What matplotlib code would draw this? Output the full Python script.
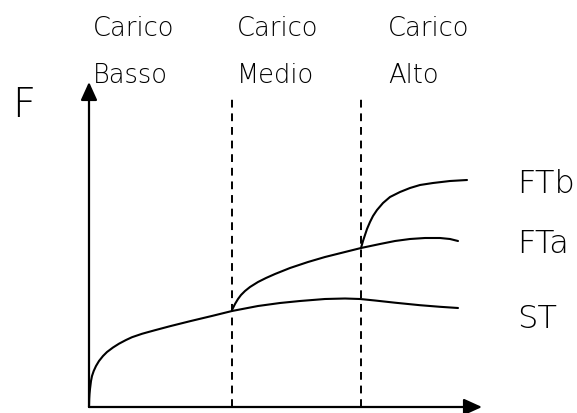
import matplotlib
matplotlib.use("Agg")
import matplotlib.pyplot as plt

# ---- data (schematic units: x = load, y = force; origin at axis corner) ----
st_x = [0, 0.2, 0.5, 1, 2, 3, 4.7, 7, 10, 14, 18, 24, 30, 37, 43, 53, 58, 66, 81, 101, 124,
        143, 169, 191, 211, 236, 256, 271, 286, 306, 331, 351, 369]
st_y = [0, 8, 13, 18, 26, 31, 36, 41, 46, 51, 55, 59.5, 63.3, 67, 69.8, 73.2, 74.6, 76.8,
        80.8, 85.8, 91.3, 96, 101, 104, 106, 108, 108.5, 108, 106.5, 104.3, 101.8, 100.2, 99]

fta_x = [143, 146, 149, 152, 156, 161, 169, 177, 186, 201, 219, 236, 256, 272, 291, 306,
         321, 336, 351, 361, 369]
fta_y = [97, 103, 108, 112, 116, 120, 125, 129, 133, 139, 145, 150, 155, 159, 163, 166,
         168, 169, 169, 168, 166]

ftb_x = [272, 274, 276, 278, 281, 284, 288, 294, 301, 311, 321, 331, 344, 361, 378]
ftb_y = [159, 166, 172, 178, 185, 191, 197, 204, 210, 215, 219, 222, 224, 226, 227]

zone_bounds = [143, 272]
zone_top = ["Carico", "Carico", "Carico"]
zone_bottom = ["Basso", "Medio", "Alto"]
zone_label_x = [4, 148, 299]
series_labels = ["FTb", "FTa", "ST"]

W, H = 577, 414
ox, oy = 89, 408  # pixel location of axis origin

fig = plt.figure(figsize=(W / 100, H / 100), dpi=100)
ax = fig.add_axes([0, 0, 1, 1])
ax.set_xlim(-ox, W - ox)
ax.set_ylim(-(H - oy), oy)
ax.axis("off")

font = "DejaVu Sans"
fw = "light"

# axes with arrows
arrow = dict(arrowstyle="-|>,head_length=1.1,head_width=0.5", lw=1.6, color="black",
             shrinkA=0, shrinkB=0)
ax.annotate("", xy=(0, 325), xytext=(0, 0), arrowprops=arrow)
ax.annotate("", xy=(393, 0), xytext=(0, 0), arrowprops=arrow)

# dashed zone boundaries
for xb in zone_bounds:
    ax.plot([xb, xb], [0, 313], color="black", lw=1.4, ls=(0, (4, 3)))

# curves
for xs, ys in [(st_x, st_y), (fta_x, fta_y), (ftb_x, ftb_y)]:
    ax.plot(xs, ys, color="black", lw=1.5, solid_capstyle="round", solid_joinstyle="round")

# zone labels
for lx, t1, t2 in zip(zone_label_x, zone_top, zone_bottom):
    ax.text(lx, oy - 36, t1, fontsize=18.5, family=font, weight=fw, ha="left", va="baseline")
    ax.text(lx, oy - 83, t2, fontsize=18.5, family=font, weight=fw, ha="left", va="baseline")

# axis label
ax.text(-77, oy - 117, "F", fontsize=29, family=font, weight=fw, ha="left", va="baseline")

# series labels
for lab, ly in zip(series_labels, [oy - 193, oy - 253, oy - 328]):
    ax.text(428, ly, lab, fontsize=23, family=font, weight=fw, ha="left", va="baseline")

fig.savefig("out.png", dpi=100)
